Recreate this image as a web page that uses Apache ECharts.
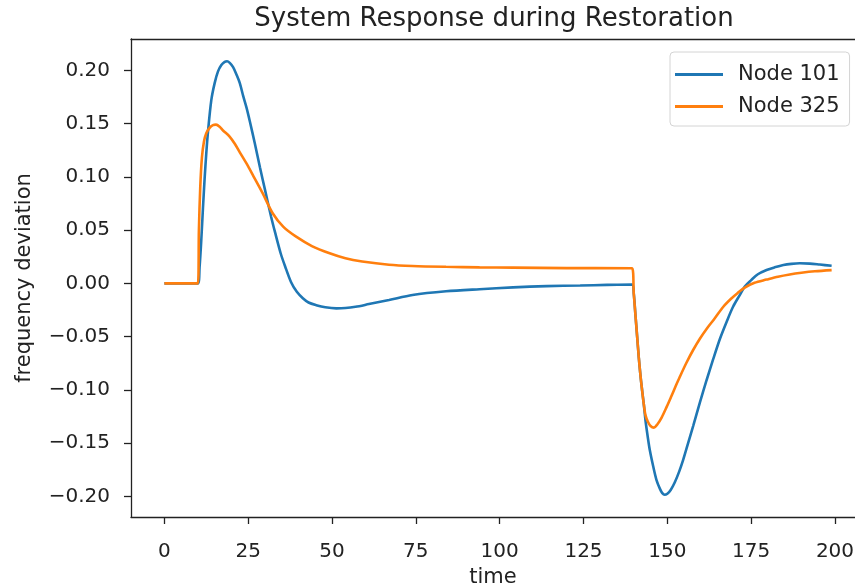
<!DOCTYPE html>
<html>
<head>
<meta charset="utf-8">
<script src="https://cdn.jsdelivr.net/npm/echarts@6/dist/echarts.min.js"></script>
<style>
html,body{margin:0;padding:0;background:#fff;}
#chart{width:855px;height:586px;}
</style>
</head>
<body>
<div id="chart"></div>
<script>
// ---- data ----
const titleText = 'System Response during Restoration';
const xName = 'time';
const yName = 'frequency deviation';
const seriesNames = ['Node 101', 'Node 325'];
const xTicks = [0, 25, 50, 75, 100, 125, 150, 175, 200];
const yTicks = [-0.20, -0.15, -0.10, -0.05, 0.00, 0.05, 0.10, 0.15, 0.20];

const t101 = [0, 10, 10.5, 11, 11.5, 12, 12.5, 13, 14, 15, 16, 17, 18, 18.7, 19.5, 20.5, 21.5, 22.5, 23.5, 24.5, 25.5, 27, 28.5, 30, 31.8, 33, 34.7, 36, 37.8, 39.5, 41.3, 43, 45.3, 48, 51.3, 54, 57, 61, 67, 74, 84, 94, 104, 114, 124, 132, 139.5,
  140, 140.5, 141, 141.5, 142, 142.5, 143, 143.5, 144.2, 144.8, 145.8, 146.8, 147.8, 148.5, 149.2, 150, 151, 152.2, 153.5, 154.7, 156.2, 157.7, 159.7, 161.7, 163.7, 165.7, 167.7, 169.6, 171.6, 173.1, 175, 177, 179.6, 182, 184.6, 187, 189.5, 192.5, 195.5, 199];
const v101 = [0, 0, 0.015, 0.04, 0.07, 0.098, 0.122, 0.142, 0.172, 0.188, 0.199, 0.205, 0.208, 0.2085, 0.207, 0.203, 0.196, 0.188, 0.176, 0.165, 0.152, 0.131, 0.109, 0.088, 0.063, 0.048, 0.028, 0.016, 0.001, -0.008, -0.014, -0.018, -0.0205, -0.0225, -0.0235, -0.0232, -0.022, -0.0195, -0.0157, -0.011, -0.0075, -0.0055, -0.0038, -0.0026, -0.002, -0.0015, -0.0012,
  -0.01, -0.03, -0.05, -0.07, -0.087, -0.101, -0.114, -0.129, -0.145, -0.157, -0.172, -0.185, -0.193, -0.197, -0.1985, -0.1975, -0.194, -0.187, -0.177, -0.166, -0.150, -0.134, -0.112, -0.091, -0.071, -0.052, -0.036, -0.022, -0.011, -0.003, 0.003, 0.0085, 0.0125, 0.015, 0.0172, 0.0183, 0.0188, 0.0185, 0.0176, 0.0165];

const t325 = [0, 10, 10.3, 10.7, 11.2, 11.8, 12.5, 13.5, 14.5, 15.4, 16.5, 17.5, 19.4, 21, 22.5, 24.4, 26.5, 29.3, 32.3, 35.5, 39.3, 44, 49.3, 54, 59, 67, 74, 84, 94, 104, 120, 139.5,
  140, 140.5, 141, 141.5, 142, 142.5, 143, 143.5, 144.2, 145, 146, 147, 148.3, 149.8, 151.2, 152.5, 153.7, 155.7, 157.7, 159.7, 161.7, 164, 166.7, 169, 171, 173.1, 176, 179.6, 183, 186.5, 190, 194, 199];
const v325 = [0, 0, 0.05, 0.09, 0.118, 0.133, 0.141, 0.146, 0.1485, 0.149, 0.147, 0.1435, 0.138, 0.131, 0.123, 0.113, 0.101, 0.0847, 0.0658, 0.053, 0.0438, 0.035, 0.0282, 0.0235, 0.0205, 0.0175, 0.0163, 0.0155, 0.015, 0.0147, 0.0143, 0.0141,
  -0.01, -0.03, -0.05, -0.07, -0.087, -0.101, -0.114, -0.124, -0.13, -0.134, -0.1355, -0.1325, -0.126, -0.116, -0.106, -0.0965, -0.088, -0.0746, -0.0626, -0.052, -0.0428, -0.0335, -0.022, -0.0145, -0.009, -0.004, 0.0005, 0.0035, 0.0062, 0.0083, 0.0099, 0.0113, 0.0124];

const colors = ['#1f77b4', '#ff7f0e'];
const FONT = 'DejaVu Sans';
const TXT = '#222';
const AX = '#222';

function zip(a, b) { return a.map((x, i) => [x, b[i]]); }
function fmtY(v) {
  const s = Math.abs(v).toFixed(2);
  return (v < -1e-9 ? '\u2212' : '') + s;
}

const chart = echarts.init(document.getElementById('chart'), null, { renderer: 'canvas' });
chart.setOption({
  animation: false,
  backgroundColor: '#fff',
  color: colors,
  title: {
    text: titleText,
    left: 494,
    textAlign: 'center',
    top: 6,
    padding: 0,
    textStyle: { fontFamily: FONT, fontSize: 26, fontWeight: 'normal', color: TXT }
  },
  legend: {
    orient: 'vertical',
    left: 670,
    top: 52,
    backgroundColor: '#fff',
    borderColor: '#d4d4d4',
    borderWidth: 1,
    borderRadius: 4,
    padding: [12, 10, 9, 5],
    itemWidth: 48,
    itemHeight: 3,
    itemGap: 11,
    icon: 'rect',
    data: seriesNames,
    textStyle: { fontFamily: FONT, fontSize: 21, color: TXT, padding: [0, 0, 0, 10] }
  },
  grid: {
    left: 131, top: 39, right: 0, height: 478,
    show: false,
    containLabel: false,
    outerBoundsMode: 'none'
  },
  xAxis: [{
    type: 'value',
    position: 'bottom',
    min: -9.95, max: 205.97,
    name: xName,
    nameLocation: 'middle',
    nameGap: 47,
    nameTextStyle: { fontFamily: FONT, fontSize: 21, color: TXT },
    splitLine: { show: false },
    axisLine: { show: true, onZero: false, lineStyle: { color: AX, width: 1.3 } },
    axisTick: { show: true, inside: false, length: 7, customValues: xTicks, lineStyle: { color: AX, width: 1.3 } },
    axisLabel: { customValues: xTicks, margin: 25, fontFamily: FONT, fontSize: 20, color: TXT, formatter: v => String(v) }
  }, {
    type: 'value',
    position: 'top',
    min: -9.95, max: 205.97,
    splitLine: { show: false },
    axisLine: { show: true, onZero: false, lineStyle: { color: AX, width: 1.3 } },
    axisTick: { show: false },
    axisLabel: { show: false }
  }],
  yAxis: {
    type: 'value',
    min: -0.2194, max: 0.2294,
    name: yName,
    nameLocation: 'middle',
    nameRotate: 90,
    nameGap: 96,
    nameTextStyle: { fontFamily: FONT, fontSize: 21, color: TXT },
    splitLine: { show: false },
    axisLine: { show: true, onZero: false, lineStyle: { color: AX, width: 1.3 } },
    axisTick: { show: true, inside: false, length: 7, customValues: yTicks, lineStyle: { color: AX, width: 1.3 } },
    axisLabel: { customValues: yTicks, margin: 21, fontFamily: FONT, fontSize: 20, color: TXT, formatter: fmtY }
  },
  series: [
    { name: seriesNames[0], type: 'line', xAxisIndex: 0, data: zip(t101, v101), showSymbol: false, symbol: 'none', smooth: 0.3,
      lineStyle: { color: colors[0], width: 2.6 }, itemStyle: { color: colors[0] } },
    { name: seriesNames[1], type: 'line', xAxisIndex: 0, data: zip(t325, v325), showSymbol: false, symbol: 'none', smooth: 0.3,
      lineStyle: { color: colors[1], width: 2.6 }, itemStyle: { color: colors[1] } }
  ]
});
</script>
</body>
</html>
